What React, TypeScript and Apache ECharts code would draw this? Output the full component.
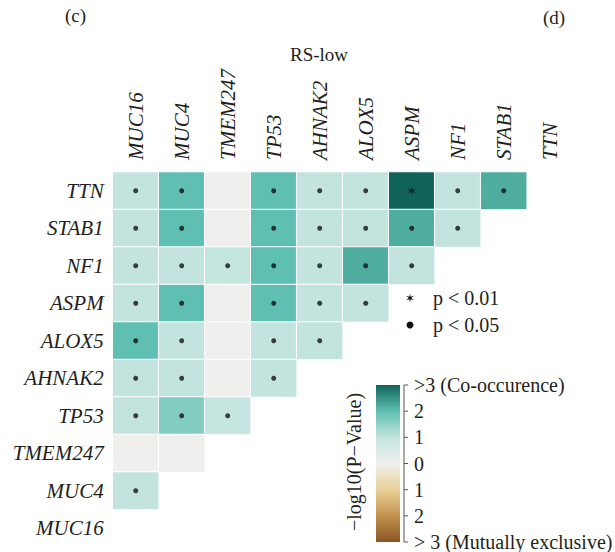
import React, { useEffect, useRef } from "react";
import * as echarts from "echarts";

// Column genes (left to right) and row genes (bottom to top)
const xCats = ["MUC16", "MUC4", "TMEM247", "TP53", "AHNAK2", "ALOX5", "ASPM", "NF1", "STAB1", "TTN"];
const yCats = ["MUC16", "MUC4", "TMEM247", "TP53", "AHNAK2", "ALOX5", "ASPM", "NF1", "STAB1", "TTN"];

// -log10(P) per row, columns starting at MUC16
const rowTTN = [1.0, 2.0, 0, 2.0, 1.0, 1.0, 3.0, 1.0, 2.2];
const rowSTAB1 = [1.0, 2.0, 0, 2.0, 1.0, 1.0, 2.2, 1.0];
const rowNF1 = [1.0, 1.0, 0.95, 2.0, 1.0, 2.2, 1.0];
const rowASPM = [1.0, 2.0, 0, 2.0, 1.0, 1.0];
const rowALOX5 = [2.0, 1.0, 0, 1.0, 1.0];
const rowAHNAK2 = [1.0, 1.0, 0, 1.0];
const rowTP53 = [1.0, 1.65, 0.9];
const rowTMEM247 = [0, 0];
const rowMUC4 = [1.0];

// significance marks: "*" p<0.01, "." p<0.05, "" none
const sigTTN = [".", ".", "", ".", ".", ".", "*", ".", "."];
const sigSTAB1 = [".", ".", "", ".", ".", ".", ".", "."];
const sigNF1 = [".", ".", ".", ".", ".", ".", "."];
const sigASPM = [".", ".", "", ".", ".", "."];
const sigALOX5 = [".", ".", "", ".", "."];
const sigAHNAK2 = [".", ".", "", "."];
const sigTP53 = [".", ".", "."];
const sigTMEM247 = ["", ""];
const sigMUC4 = ["."];

const rows: [string, number[], string[]][] = [
  ["TTN", rowTTN, sigTTN],
  ["STAB1", rowSTAB1, sigSTAB1],
  ["NF1", rowNF1, sigNF1],
  ["ASPM", rowASPM, sigASPM],
  ["ALOX5", rowALOX5, sigALOX5],
  ["AHNAK2", rowAHNAK2, sigAHNAK2],
  ["TP53", rowTP53, sigTP53],
  ["TMEM247", rowTMEM247, sigTMEM247],
  ["MUC4", rowMUC4, sigMUC4],
];

const colorStops = ["#8a5625", "#c2914f", "#e8d198", "#eff0ee", "#c3e4de", "#5fbfb2", "#0f6359"];
const colorbarLabels = [">3 (Co-occurence)", "2", "1", "0", "1", "2", "> 3 (Mutually exclusive)"];

const FONT = "Liberation Serif";
const TXT = "#231f20";

export default function App() {
  const ref = useRef<HTMLDivElement>(null);
  useEffect(() => {
    document.body.style.margin = "0";
    if (!ref.current) return;
    const chart = echarts.init(ref.current, undefined, { renderer: "svg" });

    const heat: any[] = [];
    const dots: any[] = [];
    const stars: any[] = [];
    rows.forEach(([gene, vals, sigs]) => {
      vals.forEach((v, i) => {
        heat.push([xCats[i], gene, v]);
        if (sigs[i] === ".") dots.push([xCats[i], gene]);
        if (sigs[i] === "*") stars.push([xCats[i], gene]);
      });
    });

    const starPath =
      "path://M0 -10 L1.5 -2.6 L8.66 -5 L3 0 L8.66 5 L1.5 2.6 L0 10 L-1.5 2.6 L-8.66 5 L-3 0 L-8.66 -5 L-1.5 -2.6 Z";

    // colorbar geometry
    const cbX = 376, cbY = 385, cbW = 24, cbH = 157;
    const gradStops = colorStops
      .slice()
      .reverse()
      .map((c, i) => ({ offset: i / (colorStops.length - 1), color: c }));

    const starPts: number[][] = [];
    for (let k = 0; k < 12; k++) {
      const a = (-90 + k * 30) * Math.PI / 180;
      const r = k % 2 === 0 ? 4.5 : 1.3;
      starPts.push([410 + r * Math.cos(a), 298 + r * Math.sin(a)]);
    }

    const graphics: any[] = [
      { type: "text", left: 65, top: 6, style: { text: "(c)", font: `19px "${FONT}"`, fill: TXT } },
      { type: "text", left: 543, top: 8, style: { text: "(d)", font: `19px "${FONT}"`, fill: TXT } },
      { type: "text", x: 319, y: 54, style: { text: "RS-low", font: `19px "${FONT}"`, fill: TXT, align: "center", verticalAlign: "middle" } },
      { type: "polygon", shape: { points: starPts }, style: { fill: "#111" } },
      { type: "text", x: 433, y: 298, style: { text: "p < 0.01", font: `20px "${FONT}"`, fill: TXT, verticalAlign: "middle" } },
      { type: "circle", shape: { cx: 410, cy: 325, r: 3.5 }, style: { fill: "#111" } },
      { type: "text", x: 433, y: 325, style: { text: "p < 0.05", font: `20px "${FONT}"`, fill: TXT, verticalAlign: "middle" } },
      {
        type: "rect",
        shape: { x: cbX, y: cbY, width: cbW, height: cbH },
        style: { fill: new echarts.graphic.LinearGradient(0, 0, 0, 1, gradStops) },
      },
      { type: "line", shape: { x1: 404, y1: cbY, x2: 404, y2: cbY + cbH }, style: { stroke: "#555", lineWidth: 1 } },
      {
        type: "text",
        x: 354,
        y: 462,
        rotation: Math.PI / 2,
        style: { text: "−log10(P−Value)", font: `20px "${FONT}"`, fill: TXT, align: "center", verticalAlign: "middle" },
      },
    ];
    colorbarLabels.forEach((lab, i) => {
      const y = cbY + (cbH * i) / (colorbarLabels.length - 1);
      graphics.push({ type: "line", shape: { x1: 404, y1: y, x2: 408, y2: y }, style: { stroke: "#555", lineWidth: 1 } });
      graphics.push({
        type: "text",
        x: 414,
        y: y,
        style: { text: lab, font: `20px "${FONT}"`, fill: TXT, verticalAlign: "middle" },
      });
    });

    chart.setOption({
      animation: false,
      grid: { left: 112.7, top: 172, width: 460, height: 375 },
      xAxis: {
        type: "category",
        data: xCats,
        position: "top",
        axisLine: { show: false },
        axisTick: { show: false },
        splitLine: { show: false },
        axisLabel: {
          rotate: -90,
          margin: 12,
          fontFamily: FONT,
          fontStyle: "italic",
          fontSize: 21,
          color: TXT,
          interval: 0,
        },
      },
      yAxis: {
        type: "category",
        data: yCats,
        axisLine: { show: false },
        axisTick: { show: false },
        splitLine: { show: false },
        axisLabel: {
          margin: 9,
          fontFamily: FONT,
          fontStyle: "italic",
          fontSize: 21,
          color: TXT,
          interval: 0,
        },
      },
      visualMap: {
        show: false,
        type: "continuous",
        min: -3,
        max: 3,
        dimension: 2,
        seriesIndex: 0,
        inRange: { color: colorStops },
      },
      series: [
        {
          type: "heatmap",
          data: heat,
          itemStyle: { borderColor: "#ffffff", borderWidth: 1 },
          emphasis: { disabled: true },
        },
        {
          type: "scatter",
          data: dots,
          symbol: "circle",
          symbolSize: 5,
          itemStyle: { color: "#111" },
          silent: true,
        },
        {
          type: "scatter",
          data: stars,
          symbol: starPath,
          symbolSize: 9,
          itemStyle: { color: "#111" },
          silent: true,
        },
      ],
      graphic: graphics,
    });
    return () => chart.dispose();
  }, []);
  return <div ref={ref} style={{ width: 615, height: 552 }} />;
}
